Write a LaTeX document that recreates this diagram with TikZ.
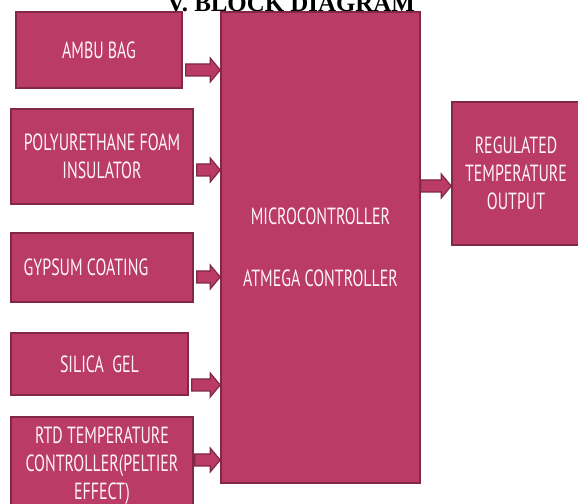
\documentclass[tikz,border=0pt]{standalone}
\usepackage{fontspec}
\setmainfont{Liberation Serif}
\newfontfamily\blockfont[FakeStretch=0.68]{PT Sans}
\usepackage{tikz}
\usetikzlibrary{calc}

\definecolor{boxfill}{HTML}{B93B66}
\definecolor{boxedge}{HTML}{82264A}
\definecolor{boxtext}{HTML}{FFF4FA}

\tikzset{
	block/.style={draw=boxedge, fill=boxfill, line width=1.6bp, inner sep=0pt,
		align=center, text=boxtext, font=\blockfont\fontsize{23.5}{28}\selectfont},
	fatarrow/.style={draw=boxedge, fill=boxfill, line width=1.2bp,
		to path={let \p1=(\tikztostart), \p2=(\tikztotarget) in
			(\x1,\y1+6bp) -- (\x2-10bp,\y1+6bp) -- (\x2-10bp,\y1+12bp) -- (\x2,\y1)
			-- (\x2-10bp,\y1-12bp) -- (\x2-10bp,\y1-6bp) -- (\x1,\y1-6bp) -- cycle}}
}

\begin{document}
\begin{tikzpicture}[x=1bp,y=1bp]
	\useasboundingbox (0,0) rectangle (578,504);
	\clip (0,0) rectangle (578,504);

	\node (title) at (291bp,492bp) [anchor=base, font=\bfseries\fontsize{25}{30}\selectfont] {V. BLOCK DIAGRAM};

	\node (ambu)   at (99bp,454bp)    [block, minimum width=166bp, minimum height=76bp] {AMBU BAG};
	\node (foam)   at (102bp,347.5bp) [block, minimum width=182bp, minimum height=95bp] {POLYURETHANE FOAM\\INSULATOR};
	\node (gypsum) at (102bp,236.5bp) [block, minimum width=182bp, minimum height=69bp] {\hspace*{-32bp}GYPSUM COATING};
	\node (silica) at (99.5bp,140bp)  [block, minimum width=177bp, minimum height=62bp] {SILICA\ \ GEL};
	\node (rtd)    at (102bp,38bp)    [block, minimum width=182bp, minimum height=98bp] {RTD TEMPERATURE\\CONTROLLER(PELTIER\\EFFECT)};
	\node (mcu)    at (320.5bp,256.5bp) [block, minimum width=199bp, minimum height=471bp] {MICROCONTROLLER\\[34bp]ATMEGA CONTROLLER};
	\node (output) at (516bp,330.5bp) [block, minimum width=128bp, minimum height=143bp] {REGULATED\\TEMPERATURE\\OUTPUT};

	\draw [fatarrow] ([xshift=3bp,yshift=-20bp]ambu.east)    to (mcu.west);
	\draw [fatarrow] ([xshift=3bp,yshift=-13.5bp]foam.east)  to (mcu.west);
	\draw [fatarrow] ([xshift=3bp,yshift=-9.5bp]gypsum.east) to (mcu.west);
	\draw [fatarrow] ([xshift=3bp,yshift=-21bp]silica.east)  to (mcu.west);
	\draw [fatarrow] ([xshift=1bp,yshift=6bp]rtd.east)       to (mcu.west);
	\draw [fatarrow] ([yshift=61.5bp]mcu.east)               to (output.west);
\end{tikzpicture}
\end{document}
